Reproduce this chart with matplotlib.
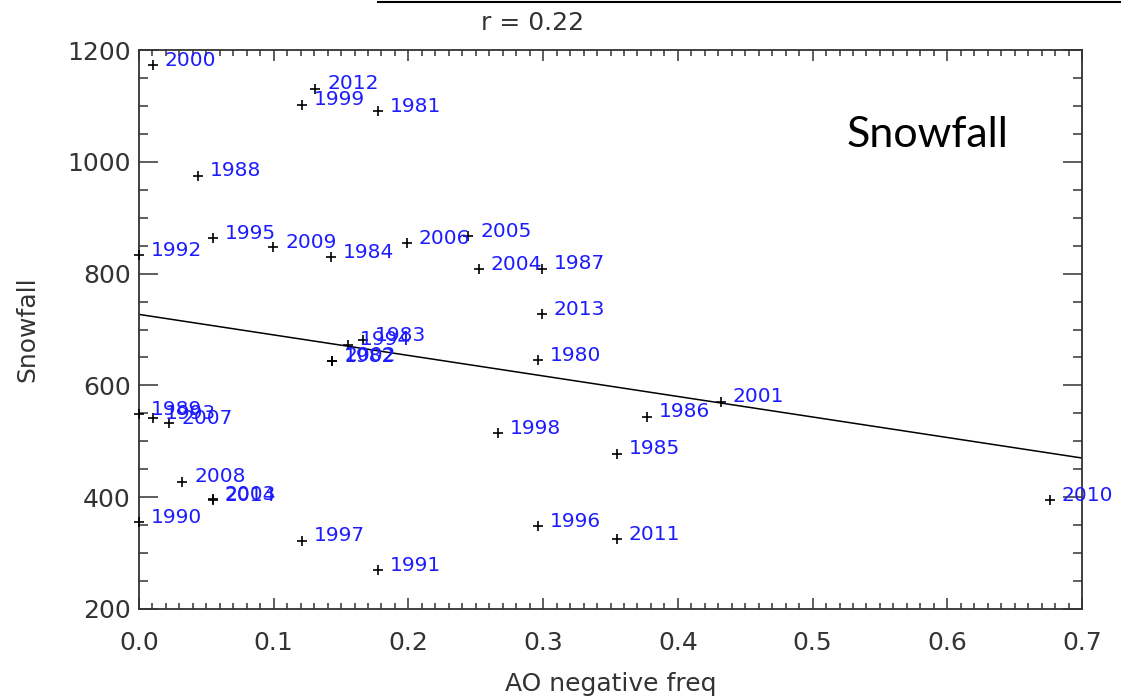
import matplotlib
matplotlib.use("Agg")
import matplotlib.pyplot as plt
from matplotlib.lines import Line2D
from matplotlib.ticker import MultipleLocator

# AO negative frequency vs snowfall, one point per winter
years = [1980, 1981, 1982, 1983, 1984, 1985, 1986, 1987, 1988, 1989,
         1990, 1991, 1992, 1993, 1994, 1995, 1996, 1997, 1998, 1999,
         2000, 2001, 2002, 2003, 2004, 2005, 2006, 2007, 2008, 2009,
         2010, 2011, 2012, 2013, 2014]
ao_freq = [0.2965, 0.1772, 0.1435, 0.1665, 0.1425, 0.3546, 0.3774, 0.2990, 0.0436, 0.0000,
           0.0000, 0.1774, 0.0000, 0.0102, 0.1554, 0.0547, 0.2962, 0.1210, 0.2667, 0.1208,
           0.0104, 0.4318, 0.1435, 0.0547, 0.2524, 0.2445, 0.1987, 0.0225, 0.0321, 0.0997,
           0.6763, 0.3549, 0.1310, 0.2990, 0.0547]
snowfall = [645, 1090, 643, 681, 829, 478, 544, 809, 975, 549,
            355, 270, 833, 541, 673, 864, 348, 322, 514, 1102,
            1173, 571, 644, 396, 808, 867, 854, 532, 428, 847,
            395, 325, 1131, 727, 395]

# regression line as drawn (intercept, slope)
fit_intercept = 727.0
fit_slope = -367.0
fit_x = [0.0, 0.7]
r_value = 0.22

LABEL_BLUE = "#1c1cff"
AXIS_GREY = "#333333"

plt.rcParams["font.family"] = ["DejaVu Sans"]

fig = plt.figure(figsize=(11.3, 6.97), dpi=100)
ax = fig.add_axes([139 / 1130, 1 - 609 / 697, (1082 - 139) / 1130, (609 - 50) / 697])

ax.plot(ao_freq, snowfall, linestyle="none", marker="+", color="black",
        markersize=7.5, markeredgewidth=1.2, clip_on=False, zorder=3)

for yr, xv, yv in zip(years, ao_freq, snowfall):
    ax.annotate(str(yr), (xv, yv), xytext=(8.5, -0.5), textcoords="offset points",
                ha="left", va="baseline", fontsize=14.5, color=LABEL_BLUE,
                annotation_clip=False, zorder=4)

fit_y = [fit_intercept + fit_slope * xv for xv in fit_x]
ax.plot(fit_x, fit_y, color="black", linewidth=1.1, zorder=2)

ax.set_xlim(0.0, 0.7)
ax.set_ylim(200, 1200)
ax.xaxis.set_major_locator(MultipleLocator(0.1))
ax.xaxis.set_minor_locator(MultipleLocator(0.01))
ax.yaxis.set_major_locator(MultipleLocator(200))
ax.yaxis.set_minor_locator(MultipleLocator(50))
ax.xaxis.set_major_formatter(plt.FuncFormatter(lambda v, p: f"{v:.1f}"))

ax.tick_params(which="both", direction="in", top=True, right=True,
               colors=AXIS_GREY, labelsize=18, width=1.1)
ax.tick_params(axis="x", which="major", length=8, pad=16)
ax.tick_params(axis="x", which="minor", length=4)
ax.tick_params(axis="y", which="major", length=13.5, pad=6)
ax.tick_params(axis="y", which="minor", length=6.5)
for side in ax.spines.values():
    side.set_color(AXIS_GREY)
    side.set_linewidth(1.3)

ax.set_xlabel("AO negative freq", fontsize=18, color=AXIS_GREY, labelpad=12)
ax.set_ylabel("Snowfall", fontsize=18, color=AXIS_GREY, labelpad=20)

fig.text(533 / 1130, 1 - 23 / 697, f"r = {r_value:.2f}", fontsize=18,
         color=AXIS_GREY, ha="center", va="center")

ax.text(0.836, 0.848, "Snowfall", transform=ax.transAxes, fontsize=31,
        family=["Lato", "DejaVu Sans"], color="black", ha="center", va="center")

fig.add_artist(Line2D([378 / 1130, 1120 / 1130], [1 - 1.5 / 697] * 2,
                      color="black", linewidth=1.5))

fig.savefig("out.png", dpi=100, facecolor="white")
